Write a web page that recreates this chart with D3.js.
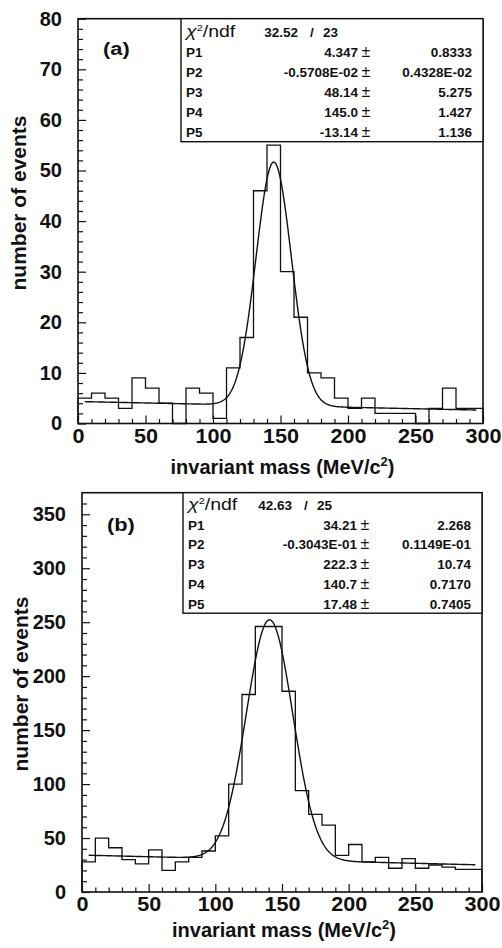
<!DOCTYPE html>
<html>
<head>
<meta charset="utf-8">
<script src="https://cdn.jsdelivr.net/npm/d3@7/dist/d3.min.js"></script>
<style>
body { margin: 0; background: #fff; }
svg { display: block; }
text { font-family: "Liberation Sans", Arial, Helvetica, sans-serif; fill: #111; }
</style>
</head>
<body>
<div id="chart"></div>
<script>
// bins are 10 MeV wide, lower edges
var binLow = [0, 10, 20, 30, 40, 50, 60, 70, 80, 90, 100, 110, 120, 130, 140,
              150, 160, 170, 180, 190, 200, 210, 220, 230, 240, 250, 260, 270, 280, 290];
var binWidth = 10;

var countsA = [5, 6, 5, 3, 9, 7, 4, 0, 7, 6, 1, 11, 17, 46, 55,
               30, 21, 10, 9, 5, 3, 5, 2, 2, 2, 0, 3, 7, 3, 3];
var countsB = [28, 50, 41, 30, 26, 39, 20, 28, 32, 38, 52, 100, 183, 246, 246,
               186, 94, 72, 62, 34, 44, 28, 32, 22, 31, 22, 25, 23, 21, 21];

var paramNames = ['P1', 'P2', 'P3', 'P4', 'P5'];
var valuesA = ['4.347', '-0.5708E-02', '48.14', '145.0', '-13.14'];
var errorsA = ['0.8333', '0.4328E-02', '5.275', '1.427', '1.136'];
var chi2A = ['32.52', '23'];
var valuesB = ['34.21', '-0.3043E-01', '222.3', '140.7', '17.48'];
var errorsB = ['2.268', '0.1149E-01', '10.74', '0.7170', '0.7405'];
var chi2B = ['42.63', '25'];

var xTicks = [0, 50, 100, 150, 200, 250, 300];
var yTicksA = [0, 10, 20, 30, 40, 50, 60, 70, 80];
var yTicksB = [0, 50, 100, 150, 200, 250, 300, 350];
var fitRange = [5, 295];

var svg = d3.select('#chart').append('svg')
    .attr('width', 502)
    .attr('height', 948);

// the printed labels are a little wider than Liberation bold
function stretch(sel, s) {
    sel.each(function() {
	var t = d3.select(this);
	var tx = +t.attr('x') || 0;
	t.attr('x', 0).attr('transform', 'translate(' + tx + ',0) scale(' + s + ',1)');
    });
}

function drawPanel(p) {
    var x = d3.scaleLinear().domain([0, 300]).range([p.left, p.right]);
    var y = d3.scaleLinear().domain([0, p.yMax]).range([p.bottom, p.top]);
    var g = svg.append('g');

    // minor ticks first
    var xMinor = binLow.filter(v => v % 50 != 0);
    g.append('g')
        .attr('transform', 'translate(0,' + p.bottom + ')')
        .call(d3.axisBottom(x).tickValues(xMinor).tickSize(-4.5).tickFormat(''))
        .call(a => a.select('.domain').remove());
    var yMinor = d3.range(0, p.yMax, p.yMinorStep).filter(v => v % p.yMajorStep != 0);
    g.append('g')
        .attr('transform', 'translate(' + p.left + ',0)')
        .call(d3.axisLeft(y).tickValues(yMinor).tickSize(-5).tickFormat(''))
        .call(a => a.select('.domain').remove());

    var xa = g.append('g')
        .attr('transform', 'translate(0,' + p.bottom + ')')
        .call(d3.axisBottom(x).tickValues(xTicks).tickSize(-8).tickPadding(p.xPad).tickFormat(d3.format('d')));
    var ya = g.append('g')
        .attr('transform', 'translate(' + p.left + ',0)')
        .call(d3.axisLeft(y).tickValues(p.yTicks).tickSize(-8).tickPadding(p.yPad).tickFormat(d3.format('d')));
    [xa, ya].forEach(function(a) {
	a.select('.domain').remove();
	a.attr('font-family', null).attr('font-size', null);
	a.selectAll('text')
	    .style('font-size', '20px')
	    .style('font-weight', 'bold');
    });
    stretch(xa.selectAll('text'), 1.08);
    g.selectAll('.tick line').attr('stroke', '#111').attr('stroke-width', 1.2);

    // frame
    g.append('rect')
        .attr('x', p.left).attr('y', p.top)
        .attr('width', p.right - p.left).attr('height', p.bottom - p.top)
        .attr('fill', 'none').attr('stroke', '#111').attr('stroke-width', 1.6);

    // histogram outline
    var pts = [[0, 0]];
    binLow.forEach(function(lo, i) {
	pts.push([lo, p.counts[i]]);
	pts.push([lo + binWidth, p.counts[i]]);
    });
    pts.push([300, 0]);
    var line = d3.line().x(d => x(d[0])).y(d => y(d[1]));
    g.append('path')
        .attr('d', line(pts))
        .attr('fill', 'none').attr('stroke', '#111').attr('stroke-width', 1.3);

    // fit: linear background + gaussian, using the parameters in the box
    var par = p.values.map(parseFloat);
    var fit = d3.range(fitRange[0], fitRange[1] + 0.25, 0.5).map(function(m) {
	var t = (m - par[3]) / par[4];
	return [m, par[0] + par[1] * m + par[2] * Math.exp(-0.5 * t * t)];
    });
    g.append('path')
        .attr('d', line(fit))
        .attr('fill', 'none').attr('stroke', '#111').attr('stroke-width', 1.4);

    // stat box
    var bx = p.boxX, by = p.top;
    g.append('rect')
        .attr('x', bx).attr('y', by)
        .attr('width', p.right - bx).attr('height', p.boxH)
        .attr('fill', '#fff').attr('stroke', '#111').attr('stroke-width', 1.4);

    var row0 = by + p.row0;
    var chi = g.append('text')
        .attr('transform', 'translate(' + (bx + 5) + ',' + row0 + ') scale(1.22,1)')
        .style('font-size', '16px');
    chi.append('tspan').text('χ').style('font-style', 'italic');
    chi.append('tspan').text('2').attr('dy', -6).style('font-size', '9px');
    chi.append('tspan').text('/ndf').attr('dy', 6);

    function txt(xx, yy, s, anchor) {
	return g.append('text').attr('x', xx).attr('y', yy)
	    .attr('text-anchor', anchor || 'start').text(s)
	    .style('font-size', '13.5px').style('font-weight', 'bold');
    }
    txt(bx + p.chiCol, row0, p.chi2[0], 'end');
    txt(bx + p.chiCol + 14, row0, '/', 'middle');
    txt(bx + p.chiCol + 25, row0, p.chi2[1], 'start');

    paramNames.forEach(function(nm, i) {
	var yy = row0 + (i + 1) * p.rowStep;
	txt(bx + 5, yy, nm);
	txt(bx + p.valCol, yy, p.values[i], 'end');
	txt(bx + p.valCol + 8, yy, '±', 'middle').style('font-weight', 'normal').style('font-size', '16px');
	txt(p.right - 11, yy, p.errors[i], 'end');
    });

    // panel label
    svg.append('text')
        .attr('transform', 'translate(' + (p.left + 25) + ',' + p.labelY + ') scale(1.15,1)')
        .style('font-size', '19px').style('font-weight', 'bold')
        .text(p.label);

    // axis titles
    var xt = svg.append('text')
        .attr('x', (p.left + p.right) / 2 + 2).attr('y', p.xTitleY)
        .attr('text-anchor', 'middle')
        .style('font-size', '20px').style('font-weight', 'bold');
    xt.append('tspan').text('invariant mass (MeV/c');
    xt.append('tspan').text('2').attr('dy', -8).style('font-size', '13px');
    xt.append('tspan').text(')').attr('dy', 8);

    svg.append('text')
        .attr('transform', 'translate(' + p.yTitleX + ',' + p.yTitleY + ') rotate(-90)')
        .attr('text-anchor', 'middle')
        .style('font-size', '21px').style('font-weight', 'bold')
        .text('number of events');
}

drawPanel({
    left: 78, right: 483, top: 18.7, bottom: 423.5,
    yMax: 80, yTicks: yTicksA, yMajorStep: 10, yMinorStep: 2,
    xPad: 5, yPad: 16,
    counts: countsA, values: valuesA, errors: errorsA, chi2: chi2A,
    boxX: 181, boxH: 123, row0: 18, rowStep: 20, chiCol: 117, valCol: 177,
    label: '(a)', labelY: 55,
    xTitleY: 474, yTitleX: 26, yTitleY: 203
});

drawPanel({
    left: 82, right: 482, top: 492.7, bottom: 892,
    yMax: 370, yTicks: yTicksB, yMajorStep: 50, yMinorStep: 10,
    xPad: 5, yPad: 16,
    counts: countsB, values: valuesB, errors: errorsB, chi2: chi2B,
    boxX: 183, boxH: 120.5, row0: 17, rowStep: 19.8, chiCol: 109, valCol: 174,
    label: '(b)', labelY: 531,
    xTitleY: 937, yTitleX: 28, yTitleY: 684
});
</script>
</body>
</html>
